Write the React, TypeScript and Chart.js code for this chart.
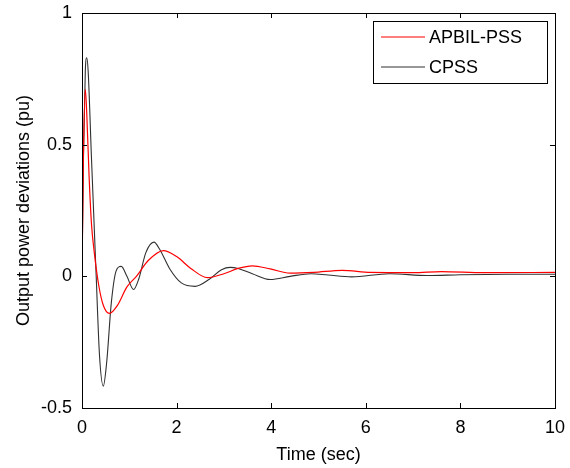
import React, { useEffect, useRef } from "react";
import { Chart, registerables } from "chart.js";

Chart.register(...registerables);

const cpssTime = [0, 0.03, 0.07, 0.1, 0.13, 0.2, 0.3, 0.37, 0.45, 0.52, 0.62, 0.72, 0.83, 0.95, 1.09, 1.2, 1.35, 1.52, 1.65, 1.85, 2.1, 2.39, 2.7, 2.95, 3.13, 3.3, 3.6, 3.98, 4.4, 4.84, 5.2, 5.7, 6.5, 7.3, 8.0, 9.0, 10];
const cpssValue = [0, 0.45, 0.78, 0.83, 0.78, 0.45, 0.0, -0.3, -0.417, -0.33, -0.1, 0.02, 0.038, 0.0, -0.05, -0.01, 0.09, 0.13, 0.1, 0.03, -0.025, -0.038, -0.01, 0.025, 0.034, 0.03, 0.01, -0.012, 0.0, 0.01, 0.005, -0.002, 0.01, 0.003, 0.006, 0.008, 0.008];

const apbilTime = [0, 0.03, 0.07, 0.1, 0.15, 0.2, 0.26, 0.35, 0.45, 0.58, 0.75, 0.95, 1.15, 1.4, 1.72, 2.0, 2.3, 2.65, 3.0, 3.3, 3.6, 3.98, 4.4, 4.9, 5.5, 6.1, 7.0, 7.6, 8.5, 10];
const apbilValue = [0, 0.45, 0.71, 0.62, 0.38, 0.2, 0.09, -0.03, -0.11, -0.141, -0.11, -0.04, 0.0, 0.06, 0.098, 0.075, 0.03, -0.005, 0.01, 0.03, 0.04, 0.028, 0.012, 0.015, 0.023, 0.015, 0.014, 0.018, 0.014, 0.015];

const xTicks = [0, 2, 4, 6, 8, 10];
const yTicks = [-0.5, 0, 0.5, 1];
const seriesNames = ["APBIL-PSS", "CPSS"];
const seriesColors = ["#ff0000", "#303030"];

const FONT = "Arial, 'Liberation Sans', sans-serif";

const frame = {
  id: "frame",
  afterDraw(chart: any) {
    const { ctx, chartArea, scales } = chart;
    const { left, right, top, bottom } = chartArea;
    ctx.save();
    ctx.strokeStyle = "#000";
    ctx.lineWidth = 1;
    ctx.strokeRect(Math.round(left) + 0.5, Math.round(top) + 0.5, Math.round(right - left), Math.round(bottom - top));
    const t = 5;
    ctx.beginPath();
    xTicks.forEach((v) => {
      const x = Math.round(scales.x.getPixelForValue(v)) + 0.5;
      ctx.moveTo(x, bottom);
      ctx.lineTo(x, bottom - t);
      ctx.moveTo(x, top);
      ctx.lineTo(x, top + t);
    });
    yTicks.forEach((v) => {
      const y = Math.round(scales.y.getPixelForValue(v)) + 0.5;
      ctx.moveTo(left, y);
      ctx.lineTo(left + t, y);
      ctx.moveTo(right, y);
      ctx.lineTo(right - t, y);
    });
    ctx.stroke();

    // legend
    const bx = 373, by = 21, bw = 174, bh = 62;
    ctx.fillStyle = "#fff";
    ctx.fillRect(bx, by, bw, bh);
    ctx.strokeStyle = "#000";
    ctx.strokeRect(bx + 0.5, by + 0.5, bw, bh);
    ctx.font = `18px ${FONT}`;
    ctx.textBaseline = "middle";
    ctx.textAlign = "left";
    const rows = [37, 67];
    for (let i = 0; i < seriesNames.length; i++) {
      ctx.beginPath();
      ctx.strokeStyle = seriesColors[i];
      ctx.lineWidth = 1.2;
      ctx.moveTo(381, rows[i]);
      ctx.lineTo(425, rows[i]);
      ctx.stroke();
      ctx.fillStyle = "#000";
      ctx.fillText(seriesNames[i], 429, rows[i] + 1);
    }
    ctx.restore();
  },
};

export default function App() {
  const ref = useRef<HTMLCanvasElement>(null);
  useEffect(() => {
    const chart = new Chart(ref.current as HTMLCanvasElement, {
      type: "line",
      data: {
        datasets: [
          {
            label: seriesNames[0],
            data: apbilTime.map((t, i) => ({ x: t, y: apbilValue[i] })),
            borderColor: seriesColors[0],
            borderWidth: 1.2,
            pointRadius: 0,
            cubicInterpolationMode: "monotone",
            fill: false,
          },
          {
            label: seriesNames[1],
            data: cpssTime.map((t, i) => ({ x: t, y: cpssValue[i] })),
            borderColor: seriesColors[1],
            borderWidth: 1.1,
            pointRadius: 0,
            cubicInterpolationMode: "monotone",
            fill: false,
          },
        ],
      },
      options: {
        animation: false,
        responsive: false,
        maintainAspectRatio: false,
        layout: { padding: { left: 0, top: 13, right: 15, bottom: 0 } },
        plugins: { legend: { display: false }, tooltip: { enabled: false } },
        scales: {
          x: {
            type: "linear",
            min: 0,
            max: 10,
            afterBuildTicks: (s: any) => {
              s.ticks = xTicks.map((v) => ({ value: v }));
            },
            afterFit: (s: any) => {
              s.height = 60;
            },
            grid: { display: false },
            border: { display: false },
            ticks: { color: "#000", font: { size: 18, family: FONT }, padding: 1, maxRotation: 0 },
            title: { display: true, text: "Time (sec)", color: "#000", font: { size: 18, family: FONT }, padding: { top: 0, bottom: 2 } },
          },
          y: {
            type: "linear",
            min: -0.5,
            max: 1,
            afterBuildTicks: (s: any) => {
              s.ticks = yTicks.map((v) => ({ value: v }));
            },
            afterFit: (s: any) => {
              s.width = 82;
            },
            grid: { display: false },
            border: { display: false },
            ticks: {
              color: "#000",
              font: { size: 18, family: FONT },
              padding: 2,
              callback: (v: any) => String(v),
            },
            title: { display: true, text: "Output power deviations (pu)", color: "#000", font: { size: 18, family: FONT }, padding: { top: 13, bottom: 0 } },
          },
        },
      },
      plugins: [frame],
    } as any);
    return () => chart.destroy();
  }, []);
  return (
    <div style={{ position: "fixed", left: 0, top: 0, width: 570, height: 468, background: "#fff" }}>
      <canvas ref={ref} width={570} height={468} style={{ width: 570, height: 468 }} />
    </div>
  );
}
